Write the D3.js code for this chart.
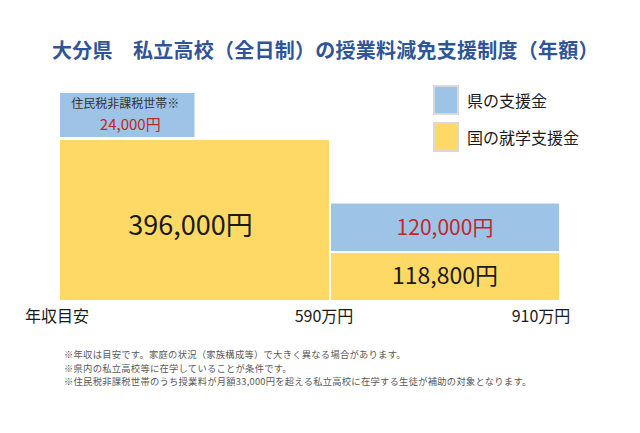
<!DOCTYPE html>
<html>
<head>
<meta charset="utf-8">
<script src="https://cdn.jsdelivr.net/npm/d3@7"></script>
<style>
  html, body { margin: 0; padding: 0; background: #ffffff; }
  svg { display: block; font-family: "Noto Sans CJK JP", "Noto Sans", sans-serif; }
</style>
</head>
<body>
<svg id="chart" width="640" height="433"></svg>
<script>
// ---- data ----
const title = "大分県\u3000私立高校（全日制）の授業料減免支援制度（年額）";
const incomeBreaks = [0, 590, 910];            // 年収目安 (万円)
const incomeTickLabels = ["590万円", "910万円"];
const axisTitle = "年収目安";
const nationalAid = [396000, 118800];          // 国の就学支援金 (円)
const prefectureAid = [24000, 120000];         // 県の支援金 (円)
const prefectureNote = ["住民税非課税世帯※", ""];
const seriesNames = ["県の支援金", "国の就学支援金"];
const footnotes = [
  "※年収は目安です。家庭の状況（家族構成等）で大きく異なる場合があります。",
  "※県内の私立高校等に在学していることが条件です。",
  "※住民税非課税世帯のうち授業料が月額33,000円を超える私立高校に在学する生徒が補助の対象となります。"
];

// ---- style ----
const YELLOW = "#FFD966";
const BLUE = "#9DC3E6";
const RED = "#C0272D";
const TITLE_BLUE = "#2F5597";

const svg = d3.select("#chart");
const fmt = d3.format(",");

const x = d3.scaleLinear().domain(incomeBreaks).range([60, 330, 560]);
const y = d3.scaleLinear().domain([0, nationalAid[0]]).range([300, 140]);

// title
svg.append("text")
  .attr("x", 52).attr("y", 58)
  .attr("font-size", 20).attr("font-weight", "bold")
  .attr("letter-spacing", 0.25)
  .attr("fill", TITLE_BLUE)
  .text(title);

// brackets
const brackets = nationalAid.map((n, i) => ({
  i, national: n, pref: prefectureAid[i], note: prefectureNote[i],
  x0: x(incomeBreaks[i]) + (i === 0 ? 0 : 1),
  x1: x(incomeBreaks[i + 1]) - 1
}));

const g = svg.append("g");

// national aid (yellow, bottom)
g.selectAll("rect.nat").data(brackets).join("rect")
  .attr("class", "nat")
  .attr("x", d => d.x0)
  .attr("width", d => d.x1 - d.x0)
  .attr("y", d => y(d.national) + (d.i === 0 ? 0 : 1))
  .attr("height", d => y(0) - y(d.national) - (d.i === 0 ? 0 : 1))
  .attr("fill", YELLOW);

g.selectAll("text.nat").data(brackets).join("text")
  .attr("class", "nat")
  .attr("x", d => (d.x0 + d.x1) / 2 - (d.i === 0 ? 4 : 0))
  .attr("y", d => (y(d.national) + y(0)) / 2 + (d.i === 0 ? 15 : 8))
  .attr("text-anchor", "middle")
  .attr("font-size", d => d.i === 0 ? 27 : 23)
  .attr("fill", "#1a1a1a")
  .text(d => fmt(d.national) + "円");

// prefecture aid (blue, stacked on top)
const minBox = 44;
const prefBox = brackets.map(d => {
  const bottom = y(d.national) - (d.i === 0 ? 3 : 1);
  const h = Math.max(y(0) - y(d.pref) - 1, d.note ? minBox : 0);
  const x1 = d.note ? d.x0 + (d.x1 - d.x0) / 2 : d.x1;
  return { ...d, top: bottom - h, bottom, bx1: x1 };
});

g.selectAll("rect.pref").data(prefBox).join("rect")
  .attr("class", "pref")
  .attr("x", d => d.x0)
  .attr("width", d => d.bx1 - d.x0)
  .attr("y", d => d.top)
  .attr("height", d => d.bottom - d.top)
  .attr("fill", BLUE);

prefBox.forEach(d => {
  const cx = (d.x0 + d.bx1) / 2;
  if (d.note) {
    g.append("text")
      .attr("x", cx - 2).attr("y", d.top + 15)
      .attr("text-anchor", "middle")
      .attr("font-size", 12).attr("fill", "#333")
      .text(d.note);
    g.append("text")
      .attr("x", cx + 3).attr("y", d.top + 37)
      .attr("text-anchor", "middle")
      .attr("font-size", 15).attr("fill", RED)
      .text(fmt(d.pref) + "円");
  } else {
    g.append("text")
      .attr("x", cx).attr("y", (d.top + d.bottom) / 2 + 8)
      .attr("text-anchor", "middle")
      .attr("font-size", 21).attr("fill", RED)
      .text(fmt(d.pref) + "円");
  }
});

// axis labels
svg.append("text")
  .attr("x", 25).attr("y", 322)
  .attr("font-size", 16).attr("fill", "#1a1a1a")
  .text(axisTitle);

svg.selectAll("text.tick").data(incomeBreaks.slice(1)).join("text")
  .attr("class", "tick")
  .attr("x", (d, i) => x(d) + (i === incomeBreaks.length - 2 ? -19 : -6))
  .attr("y", 322)
  .attr("text-anchor", "middle")
  .attr("font-size", 16).attr("fill", "#1a1a1a")
  .text((d, i) => incomeTickLabels[i]);

// legend
const legendColors = [BLUE, YELLOW];
const leg = svg.append("g").attr("transform", "translate(433,85)");
seriesNames.forEach((name, i) => {
  leg.append("rect")
    .attr("x", 1).attr("y", i * 37 + 1)
    .attr("width", 24).attr("height", 28)
    .attr("fill", legendColors[i])
    .attr("stroke", "#d9d9d9").attr("stroke-width", 2);
  leg.append("text")
    .attr("x", 34).attr("y", i * 37 + 22)
    .attr("font-size", 16).attr("fill", "#1a1a1a")
    .text(name);
});

// footnotes
svg.selectAll("text.note").data(footnotes).join("text")
  .attr("class", "note")
  .attr("x", 64)
  .attr("y", (d, i) => 358 + i * 13.6)
  .attr("font-size", 9.3).attr("letter-spacing", 0.25).attr("fill", "#595959")
  .text(d => d);
</script>
</body>
</html>
